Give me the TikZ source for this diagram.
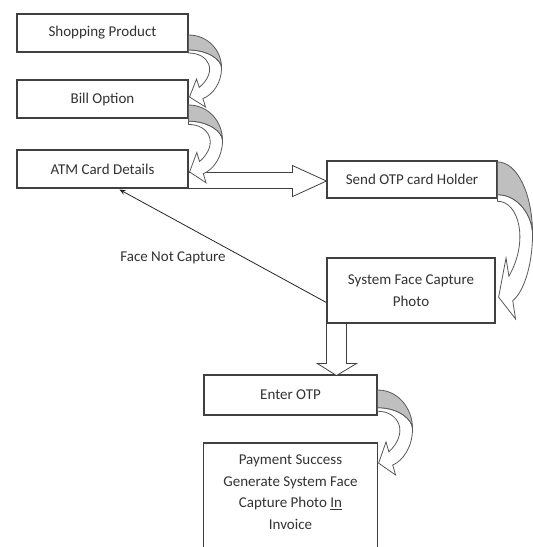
\documentclass[tikz,border=0pt]{standalone}
\usepackage{fontspec}
\setmainfont{Carlito}
\usetikzlibrary{calc,arrows.meta}
\tikzset{
  box/.style={draw=black!75, line width=1.1pt, fill=white, text=black!80,
    font=\fontsize{15}{21.5}\selectfont, align=flush center, inner sep=2pt},
  lbl/.style={text=black!80, font=\fontsize{15}{21.5}\selectfont, inner sep=1pt},
  blk/.style={draw=black!75, line width=0.8pt, fill=white, line join=miter},
  crv/.style={draw=black!65, line width=0.8pt, fill=white, line join=miter},
  crvback/.style={draw=black!65, line width=0.8pt, fill=black!25},
  thinarr/.style={draw=black!85, line width=0.8pt, -{Stealth[length=6pt,width=5pt]}}
}
\newcommand\curvedarr[3]{%
  \begin{scope}[shift={#1}, xscale=#2, yscale=#3]
    \filldraw[crv] (0,18) .. controls (20,18) and (30,36) .. (10.7,52.4)
      -- (8,44) -- (1,62) -- (17,72) -- (14.3,63.6)
      .. controls (24,60) and (33,48) .. (33,33)
      .. controls (33,25) and (20,15) .. (0,15) -- cycle;
    \filldraw[crvback] (0,0) .. controls (19,0) and (33,15) .. (33,33)
      .. controls (33,25) and (20,15) .. (0,15) -- cycle;
  \end{scope}}
\begin{document}
\begin{tikzpicture}[x=1pt,y=-1pt]
\useasboundingbox (0,0) rectangle (533,547);
\fill[white] (0,0) rectangle (533,547);
\clip (0,0) rectangle (533,547);

\node[box, minimum width=171pt, minimum height=38pt] (shop) at (102.5,33) {Shopping Product};
\node[box, minimum width=171pt, minimum height=38pt] (bill) at (102.5,99) {Bill Option};
\node[box, minimum width=171pt, minimum height=38pt] (atm) at (102.5,169) {ATM Card Details};
\node[box, minimum width=170pt, minimum height=37pt] (send) at (412,179.5) {Send OTP card Holder};
\node[box, minimum width=168pt, minimum height=65pt] (face) at (411,290.5) {System Face Capture\\Photo};
\node[box, minimum width=173pt, minimum height=40pt] (enter) at (290.5,395) {Enter OTP};
\node[lbl, anchor=north, text width=173pt, inner xsep=0pt, inner ysep=12pt, align=flush center] (pay) at (290.5,443)
  {Payment Success\\Generate System Face\\Capture Photo \underline{In}\\Invoice};
\draw[draw=black!75, line width=1.1pt] (pay.north west) rectangle ($(pay.south east)+(0,40)$);

% wide arrow ATM -> Send OTP
\filldraw[blk] ($(atm.south east)+(0,-16)$) -- ++(104,0) -- ++(0,-7)
  -- ($(send.west)+(0,1.5)$) -- ($(atm.south east)+(104,8)$) -- ++(0,-8)
  -- (atm.south east) -- cycle;

% wide arrow Face -> Enter OTP
\filldraw[blk] (face.south west) -- ++(0,40) -- ++(-9,0)
  -- ($(face.south west)+(10,52)$) -- ($(face.south west)+(30,40)$) -- ++(-10,0)
  -- ($(face.south west)+(20,0)$) -- cycle;

% curved arrows
\curvedarr{($(shop.east)+(0,2)$)}{1}{1}
\curvedarr{($(bill.east)+(0,6)$)}{1.03}{1.08}
\curvedarr{($(send.east)+(0,-17.5)$)}{1.06}{2.18}
\curvedarr{($(enter.east)+(0,-5)$)}{1.06}{1.18}

% face not capture
\draw[thinarr] ($(face.south west)+(0,-21)$) -- ($(atm.south west)+(103,1)$);
\node[lbl] (fnc) at (173,258) {Face Not Capture};
\end{tikzpicture}
\end{document}
